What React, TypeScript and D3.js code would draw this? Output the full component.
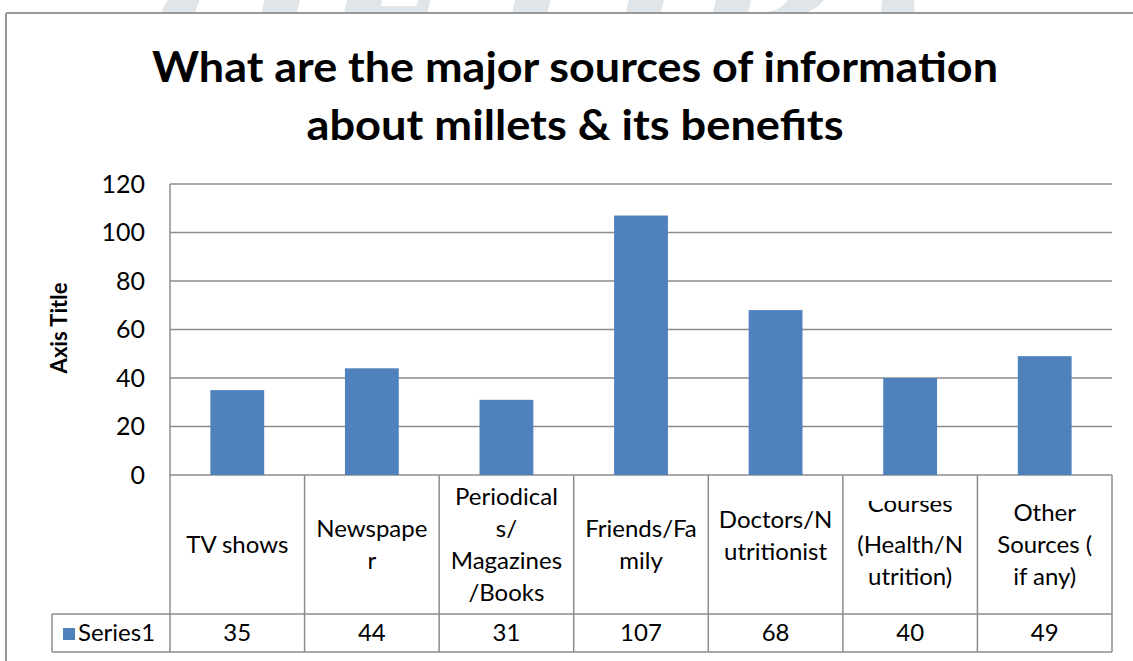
import React from "react";
import * as d3 from "d3";

const categories: string[] = [
  "TV shows",
  "Newspaper",
  "Periodicals/ Magazines/Books",
  "Friends/Family",
  "Doctors/Nutritionist",
  "Online Courses (Health/Nutrition)",
  "Other Sources ( if any)",
];
const labelLines: string[][] = [
  ["TV shows"],
  ["Newspape", "r"],
  ["Periodical", "s/", "Magazines", "/Books"],
  ["Friends/Fa", "mily"],
  ["Doctors/N", "utritionist"],
  ["Courses", "(Health/N", "utrition)"],
  ["Other", "Sources (", "if any)"],
];
const values: number[] = [35, 44, 31, 107, 68, 40, 49];
const seriesName = "Series1";
const yTicks: number[] = [0, 20, 40, 60, 80, 100, 120];
const titleLines: string[] = [
  "What are the major sources of information",
  "about millets & its benefits",
];

const W = 1133;
const H = 661;
const FONT = "Lato, 'Liberation Sans', sans-serif";
const BAR = "#4F81BD";
const GRID = "#8c8c8c";

export default function App() {
  const left = 170;
  const right = 1112;
  const top = 184;
  const base = 475;
  const rowSplit = 614;
  const rowBottom = 652;
  const legendLeft = 52;

  const x = d3.scaleBand<string>().domain(categories).range([left, right]).padding(0);
  const y = d3.scaleLinear().domain([0, 120]).range([base, top]);
  const bw = x.bandwidth() * 0.4;
  const lineH = 32;
  const labelShift = [0, 0, 0, 0, -9, 0, 0];
  const cellMid = (base + rowSplit) / 2;
  const clipped = 5;

  return (
    <svg
      width={W}
      height={H}
      style={{ position: "absolute", left: 0, top: 0, background: "#fff" }}
      fontFamily={FONT}
    >
      <defs>
        <clipPath id="cellclip">
          <rect
            x={x(categories[clipped]) as number}
            y={501}
            width={x.bandwidth()}
            height={rowSplit - 501}
          />
        </clipPath>
      </defs>
      {/* watermark */}
      <text
        x={535}
        y={70}
        textAnchor="middle"
        fontFamily="'DejaVu Serif', serif"
        fontWeight="bold"
        fontStyle="italic"
        fontSize={150}
        fill="#dfe5e8"
        textLength={790}
        lengthAdjust="spacingAndGlyphs"
      >
        (JETIR)
      </text>
      <rect x={6} y={13} width={W} height={H} fill="#fff" />
      {/* chart border */}
      <line x1={6} y1={13} x2={W} y2={13} stroke="#999" strokeWidth={2} />
      <line x1={6} y1={13} x2={6} y2={H} stroke="#999" strokeWidth={2} />

      {/* title */}
      {titleLines.map((t, i) => (
        <text
          key={t}
          x={575}
          y={82 + i * 58}
          textAnchor="middle"
          fontWeight="bold"
          fontSize={42}
          fill="#000"
          textLength={i === 0 ? 846 : 537}
          lengthAdjust="spacingAndGlyphs"
        >
          {t}
        </text>
      ))}

      {/* gridlines */}
      {yTicks.map((t) => (
        <line key={t} x1={left} x2={right} y1={y(t)} y2={y(t)} stroke={GRID} strokeWidth={1.5} />
      ))}

      {/* bars */}
      {values.map((v, i) => (
        <rect
          key={i}
          x={(x(categories[i]) as number) + (x.bandwidth() - bw) / 2}
          y={y(v)}
          width={bw}
          height={y(0) - y(v)}
          fill={BAR}
        />
      ))}

      {/* y tick labels */}
      {yTicks.map((t) => (
        <text key={t} x={145} y={y(t)} dy="0.35em" textAnchor="end" fontSize={25} fill="#000">
          {t}
        </text>
      ))}

      {/* axis title */}
      <text
        transform={`translate(67,${328}) rotate(-90)`}
        textAnchor="middle"
        fontWeight="bold"
        fontSize={22}
        fill="#000"
      >
        Axis Title
      </text>

      {/* data table */}
      <line x1={left} x2={left} y1={top} y2={rowBottom} stroke={GRID} strokeWidth={1.5} />
      {categories.map((c) => (
        <line
          key={c}
          x1={(x(c) as number) + x.bandwidth()}
          x2={(x(c) as number) + x.bandwidth()}
          y1={base}
          y2={rowBottom}
          stroke={GRID}
          strokeWidth={1.5}
        />
      ))}
      <line x1={legendLeft} x2={right} y1={rowSplit} y2={rowSplit} stroke={GRID} strokeWidth={1.5} />
      <line x1={legendLeft} x2={right} y1={rowBottom} y2={rowBottom} stroke={GRID} strokeWidth={1.5} />
      <line x1={legendLeft} x2={legendLeft} y1={rowSplit} y2={rowBottom} stroke={GRID} strokeWidth={1.5} />

      {/* category labels */}
      {labelLines.map((lines, i) => {
        const cx = (x(categories[i]) as number) + x.bandwidth() / 2;
        const n = lines.length;
        return (
          <g key={i} clipPath={i === clipped ? "url(#cellclip)" : undefined}>
            {lines.map((ln, j) => {
              let cy = cellMid + (j - (n - 1) / 2) * lineH + labelShift[i];
              if (i === clipped && j === 0) cy -= 9;
              return (
                <text key={j} x={cx} y={cy} dy="0.35em" textAnchor="middle" fontSize={24} fill="#000">
                  {ln}
                </text>
              );
            })}
          </g>
        );
      })}

      {/* series row */}
      <rect x={63} y={628} width={12} height={12} fill={BAR} />
      <text x={78} y={(rowSplit + rowBottom) / 2} dy="0.35em" fontSize={24} fill="#000">
        {seriesName}
      </text>
      {values.map((v, i) => (
        <text
          key={i}
          x={(x(categories[i]) as number) + x.bandwidth() / 2}
          y={(rowSplit + rowBottom) / 2}
          dy="0.35em"
          textAnchor="middle"
          fontSize={24}
          fill="#000"
        >
          {v}
        </text>
      ))}
    </svg>
  );
}
